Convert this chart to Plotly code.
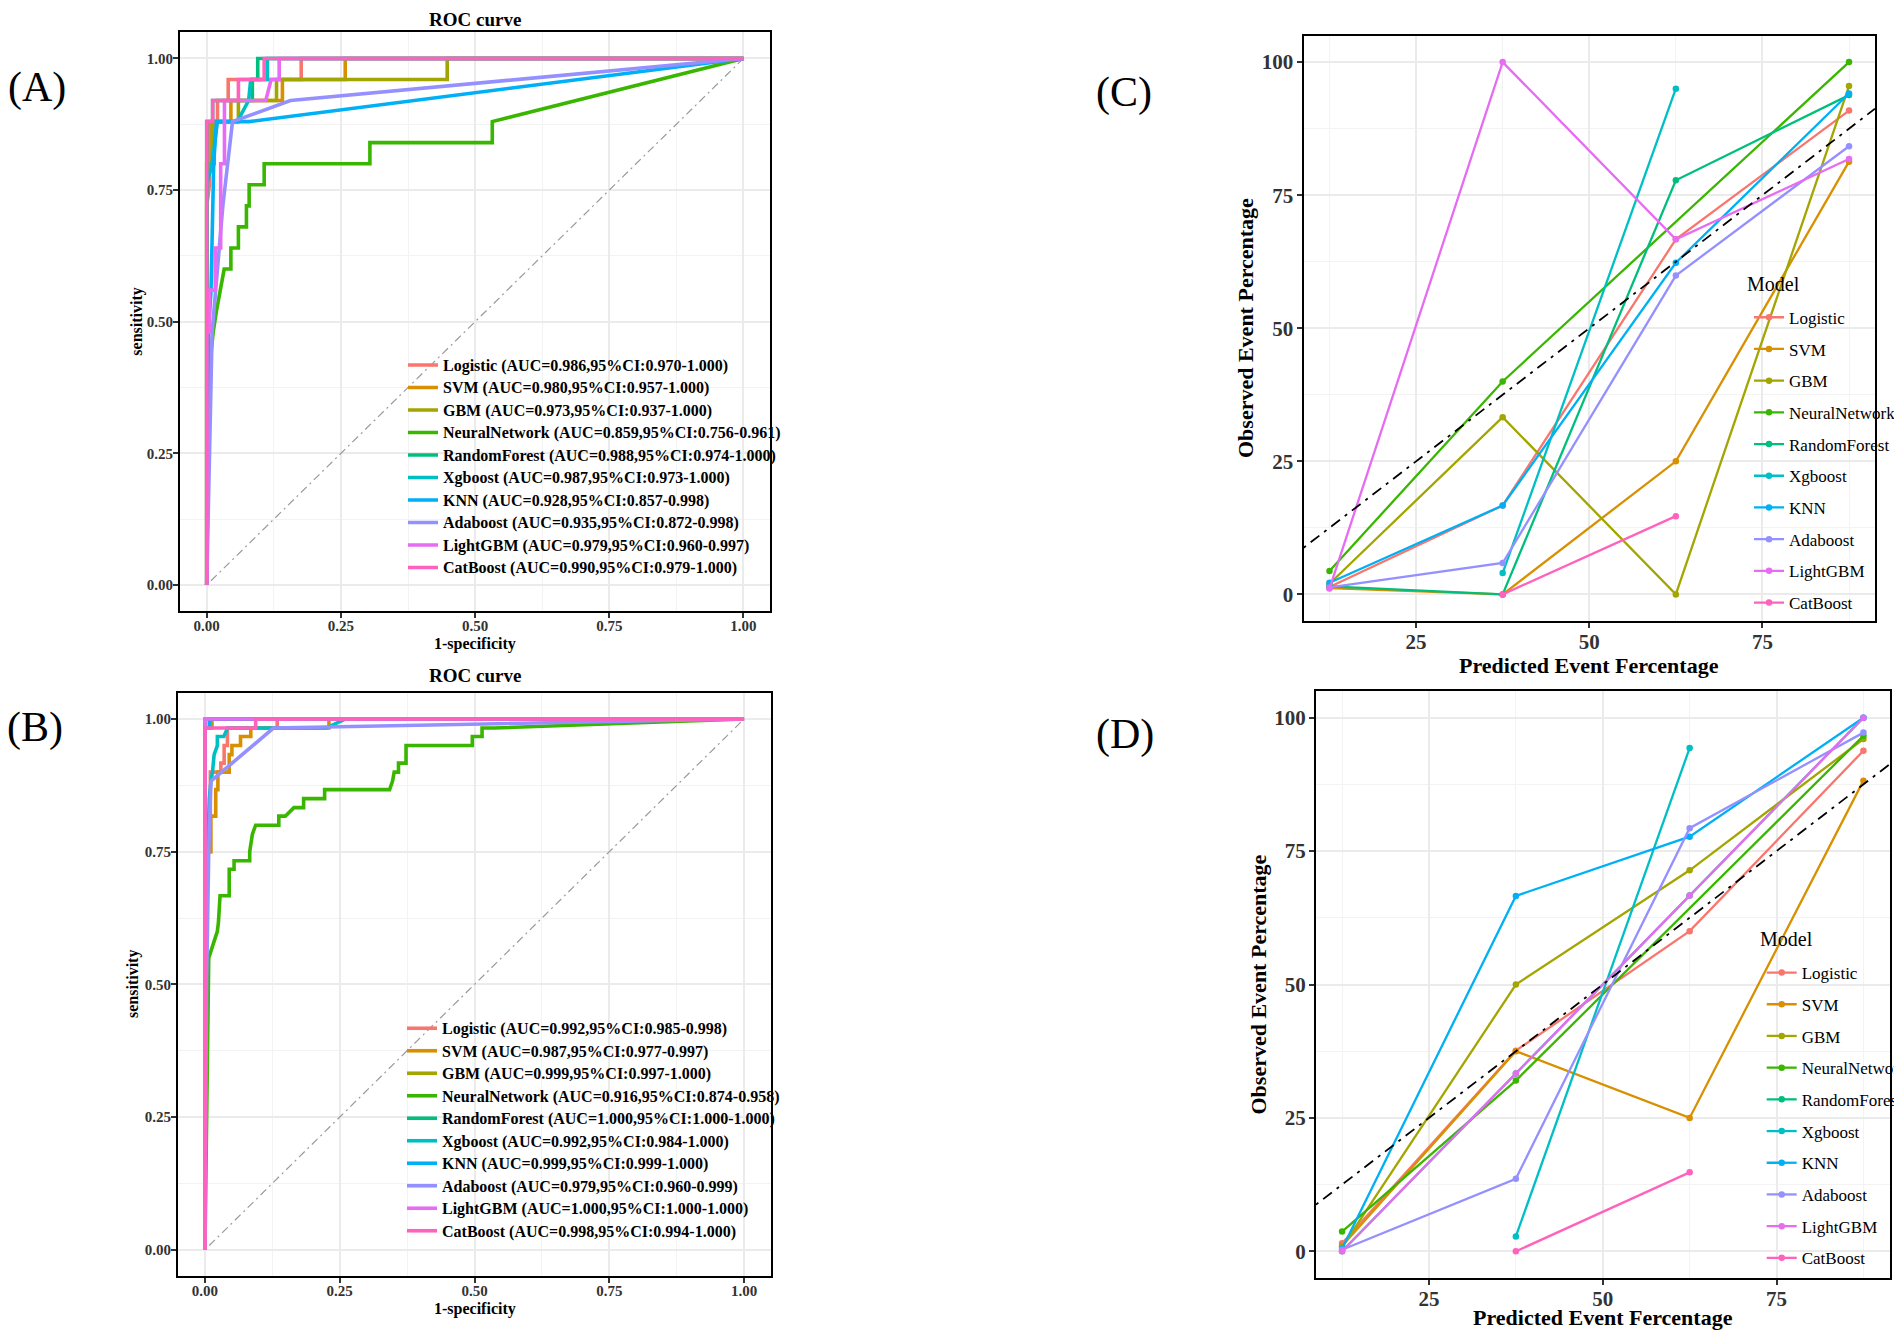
import plotly.graph_objects as go

# page is 1902x1339; the html body has an 8px margin, so the figure is sized to fit inside it
PAGE_W, PAGE_H = 1902, 1339
OFF = 8
W, H = PAGE_W - 2 * OFF, PAGE_H - 2 * OFF
FONT = "Liberation Serif"

MODELS = ["Logistic", "SVM", "GBM", "NeuralNetwork", "RandomForest",
          "Xgboost", "KNN", "Adaboost", "LightGBM", "CatBoost"]
COLORS = ["#F8766D", "#D89000", "#A3A500", "#39B600", "#00BF7D",
          "#00BFC4", "#00B0F6", "#9590FF", "#E76BF3", "#FF62BC"]

# ---------------- Panel A : ROC (fpr, tpr) ----------------
A_AUC = ["0.986", "0.980", "0.973", "0.859", "0.988", "0.987", "0.928", "0.935", "0.979", "0.990"]
A_LO = ["0.970", "0.957", "0.937", "0.756", "0.974", "0.973", "0.857", "0.872", "0.960", "0.979"]
A_HI = ["1.000", "1.000", "1.000", "0.961", "1.000", "1.000", "0.998", "0.998", "0.997", "1.000"]

A_logistic_fpr = [0, 0, 0.005, 0.005, 0.02, 0.02, 0.04, 0.04, 0.176, 0.176, 1]
A_logistic_tpr = [0, 0.72, 0.76, 0.88, 0.88, 0.92, 0.92, 0.96, 0.96, 1, 1]
A_svm_fpr = [0, 0, 0.014, 0.014, 0.045, 0.045, 0.141, 0.141, 0.258, 0.258, 1]
A_svm_tpr = [0, 0.80, 0.80, 0.88, 0.88, 0.92, 0.92, 0.96, 0.96, 1, 1]
A_gbm_fpr = [0, 0, 0.01, 0.01, 0.059, 0.059, 0.13, 0.13, 0.448, 0.448, 1]
A_gbm_tpr = [0, 0.80, 0.80, 0.88, 0.88, 0.92, 0.92, 0.96, 0.96, 1, 1]
A_nn_fpr = [0, 0.004, 0.008, 0.012, 0.018, 0.025, 0.0325, 0.045, 0.045, 0.059, 0.059, 0.074, 0.074,
            0.079, 0.079, 0.107, 0.107, 0.304, 0.304, 0.532, 0.532, 1]
A_nn_tpr = [0, 0.36, 0.44, 0.48, 0.52, 0.56, 0.60, 0.60, 0.64, 0.64, 0.68, 0.68, 0.72,
            0.72, 0.76, 0.76, 0.80, 0.80, 0.84, 0.84, 0.88, 1]
A_rf_fpr = [0, 0, 0.011, 0.011, 0.085, 0.085, 0.095, 0.095, 1]
A_rf_tpr = [0, 0.88, 0.88, 0.92, 0.92, 0.96, 0.96, 1, 1]
A_xgb_fpr = [0, 0, 0.01, 0.02, 0.057, 0.078, 0.082, 0.113, 0.113, 1]
A_xgb_tpr = [0, 0.76, 0.80, 0.88, 0.88, 0.92, 0.96, 0.96, 1, 1]
A_knn_fpr = [0, 0.003, 0.008, 0.013, 0.018, 0.079, 1]
A_knn_tpr = [0, 0.48, 0.56, 0.80, 0.88, 0.88, 1]
A_ada_fpr = [0, 0.005, 0.01, 0.03, 0.048, 0.156, 1]
A_ada_tpr = [0, 0.24, 0.48, 0.72, 0.88, 0.92, 1]
A_lgbm_fpr = [0, 0, 0.005, 0.005, 0.016, 0.016, 0.026, 0.026, 0.033, 0.033, 0.11, 0.12, 0.135, 0.135, 1]
A_lgbm_tpr = [0, 0.48, 0.48, 0.56, 0.56, 0.64, 0.64, 0.80, 0.80, 0.92, 0.92, 0.96, 0.96, 1, 1]
A_cat_fpr = [0, 0, 0.011, 0.011, 0.059, 0.059, 0.107, 0.107, 1]
A_cat_tpr = [0, 0.88, 0.88, 0.92, 0.92, 0.96, 0.96, 1, 1]

# ---------------- Panel B : ROC (fpr, tpr) ----------------
B_AUC = ["0.992", "0.987", "0.999", "0.916", "1.000", "0.992", "0.999", "0.979", "1.000", "0.998"]
B_LO = ["0.985", "0.977", "0.997", "0.874", "1.000", "0.984", "0.999", "0.960", "1.000", "0.994"]
B_HI = ["0.998", "0.997", "1.000", "0.958", "1.000", "1.000", "1.000", "0.999", "1.000", "1.000"]

B_logistic_fpr = [0, 0, 0.01, 0.01, 0.0295, 0.0295, 0.0356, 0.0356, 0.0417, 0.0417, 0.134, 0.134, 1]
B_logistic_tpr = [0, 0.75, 0.75, 0.90, 0.90, 0.917, 0.917, 0.95, 0.95, 0.983, 0.983, 1, 1]
B_svm_fpr = [0, 0, 0.011, 0.011, 0.02, 0.02, 0.024, 0.024, 0.045, 0.045, 0.05, 0.05,
             0.066, 0.066, 0.085, 0.085, 0.23, 0.23, 1]
B_svm_tpr = [0, 0.75, 0.75, 0.817, 0.817, 0.867, 0.867, 0.90, 0.90, 0.933, 0.933, 0.95,
             0.95, 0.967, 0.967, 0.983, 0.983, 1, 1]
B_gbm_fpr = [0, 0, 0.013, 0.013, 1]
B_gbm_tpr = [0, 0.983, 0.983, 1, 1]
B_nn_fpr = [0, 0.005, 0.007, 0.007, 0.023, 0.025, 0.028, 0.045, 0.045, 0.054,
            0.054, 0.083, 0.083, 0.088, 0.094, 0.137, 0.137, 0.149, 0.165, 0.183,
            0.183, 0.222, 0.222, 0.3425, 0.348, 0.351, 0.359, 0.359, 0.373, 0.373,
            0.496, 0.496, 0.514, 0.514, 0.536, 1]
B_nn_tpr = [0, 0.367, 0.533, 0.55, 0.60, 0.617, 0.667, 0.667, 0.717, 0.717,
            0.733, 0.733, 0.75, 0.783, 0.80, 0.80, 0.817, 0.817, 0.833, 0.833,
            0.85, 0.85, 0.867, 0.867, 0.883, 0.90, 0.90, 0.917, 0.917, 0.95,
            0.95, 0.967, 0.967, 0.983, 0.983, 1]
B_rf_fpr = [0, 0, 1]
B_rf_tpr = [0, 1, 1]
B_xgb_fpr = [0, 0, 0.005, 0.008, 0.011, 0.014, 0.017, 0.023, 0.023, 0.035, 0.042, 0.225, 0.26, 1]
B_xgb_tpr = [0, 0.70, 0.75, 0.85, 0.883, 0.90, 0.933, 0.95, 0.967, 0.967, 0.983, 0.983, 1, 1]
B_knn_fpr = [0, 0, 0.008, 0.008, 1]
B_knn_tpr = [0, 0.983, 0.983, 1, 1]
B_ada_fpr = [0, 0.003, 0.007, 0.011, 0.127, 1]
B_ada_tpr = [0, 0.50, 0.75, 0.883, 0.983, 1]
B_lgbm_fpr = [0, 0, 1]
B_lgbm_tpr = [0, 1, 1]
B_cat_fpr = [0, 0, 0.094, 0.094, 1]
B_cat_tpr = [0, 0.983, 0.983, 1, 1]

CHANCE = [0, 1]

# ---------------- Panels C / D : calibration ----------------
BINS = [12.5, 37.5, 62.5, 87.5]
BINS_NO3 = [12.5, 37.5, 87.5]
BINS_MID = [37.5, 62.5]

C_logistic = [1.4, 16.7, 66.7, 90.9]
C_svm = [1.2, 0.0, 25.0, 81.3]
C_gbm = [2.0, 33.3, 0.0, 95.5]
C_nn = [4.4, 40.0, 100.0]
C_rf = [1.5, 0.0, 77.8, 93.8]
C_xgb = [4.0, 95.0]
C_knn = [2.2, 16.7, 62.3, 94.1]
C_ada = [1.3, 5.9, 59.9, 84.2]
C_lgbm = [1.1, 100.0, 66.7, 81.8]
C_cat = [0.0, 14.7]

D_logistic = [1.5, 37.6, 60.0, 93.8]
D_svm = [1.0, 37.5, 25.0, 88.2]
D_gbm = [0.8, 50.0, 71.4, 96.0]
D_nn = [3.7, 32.0, 96.6]
D_rf = [0.0, 33.3, 66.7, 100.0]
D_xgb = [2.8, 94.3]
D_knn = [0.5, 66.6, 77.7, 100.0]
D_ada = [0.3, 13.6, 79.3, 97.2]
D_lgbm = [0.0, 33.3, 66.7, 100.0]
D_cat = [0.0, 14.8]

ROC_X_RANGE = [-0.05, 1.05]
ROC_Y_RANGE = [-0.05, 1.05]
CAL_X_RANGE = [8.75, 91.25]
CAL_Y_RANGE = [-5, 105]

A_curves = [(A_logistic_fpr, A_logistic_tpr), (A_svm_fpr, A_svm_tpr), (A_gbm_fpr, A_gbm_tpr),
            (A_nn_fpr, A_nn_tpr), (A_rf_fpr, A_rf_tpr), (A_xgb_fpr, A_xgb_tpr),
            (A_knn_fpr, A_knn_tpr), (A_ada_fpr, A_ada_tpr), (A_lgbm_fpr, A_lgbm_tpr),
            (A_cat_fpr, A_cat_tpr)]
B_curves = [(B_logistic_fpr, B_logistic_tpr), (B_svm_fpr, B_svm_tpr), (B_gbm_fpr, B_gbm_tpr),
            (B_nn_fpr, B_nn_tpr), (B_rf_fpr, B_rf_tpr), (B_xgb_fpr, B_xgb_tpr),
            (B_knn_fpr, B_knn_tpr), (B_ada_fpr, B_ada_tpr), (B_lgbm_fpr, B_lgbm_tpr),
            (B_cat_fpr, B_cat_tpr)]
C_cal = [(BINS, C_logistic), (BINS, C_svm), (BINS, C_gbm), (BINS_NO3, C_nn), (BINS, C_rf),
         (BINS_MID, C_xgb), (BINS, C_knn), (BINS, C_ada), (BINS, C_lgbm), (BINS_MID, C_cat)]
D_cal = [(BINS, D_logistic), (BINS, D_svm), (BINS, D_gbm), (BINS_NO3, D_nn), (BINS, D_rf),
         (BINS_MID, D_xgb), (BINS, D_knn), (BINS, D_ada), (BINS, D_lgbm), (BINS_MID, D_cat)]

fig = go.Figure()


def px_x(v):
    # page pixel -> paper fraction
    return (v - OFF) / W


def px_y(v):
    return 1 - (v - OFF) / H


# ROC panels
for ax, curves, aucs, los, his, leg in [("", A_curves, A_AUC, A_LO, A_HI, "legend"),
                                        ("2", B_curves, B_AUC, B_LO, B_HI, "legend2")]:
    fig.add_trace(go.Scatter(x=CHANCE, y=CHANCE, mode="lines", showlegend=False,
                             line=dict(color="#9A9A9A", width=1.2, dash="2px,4px,8px,4px"),
                             xaxis="x" + ax, yaxis="y" + ax, hoverinfo="skip"))
    for m, col, (fx, ty), a, lo, hi in zip(MODELS, COLORS, curves, aucs, los, his):
        label = f"{m} (AUC={a},95%CI:{lo}-{hi})"
        fig.add_trace(go.Scatter(
            x=fx, y=ty, mode="lines",
            name=f"<span style='font-size:16px'>{label}</span>",
            line=dict(color=col, width=3.6), xaxis="x" + ax, yaxis="y" + ax, legend=leg))

# Calibration panels
for ax, cal, leg, pref in [("3", C_cal, "legend3", "C"), ("4", D_cal, "legend4", "D")]:
    for m, col, (bx, by) in zip(MODELS, COLORS, cal):
        fig.add_trace(go.Scatter(
            x=bx, y=by, mode="lines+markers", name=m, legendgroup=pref + m,
            line=dict(color=col, width=2.3), marker=dict(color=col, size=6.5),
            xaxis="x" + ax, yaxis="y" + ax, legend=leg))
    fig.add_trace(go.Scatter(x=CAL_X_RANGE, y=CAL_X_RANGE, mode="lines", showlegend=False,
                             line=dict(color="black", width=1.8, dash="3px,6px,11px,6px"),
                             xaxis="x" + ax, yaxis="y" + ax, hoverinfo="skip"))

grid = "#EBEBEB"
mgrid = "#F3F3F3"


def axis_style(rng, dtick, mdtick, fmt, fsize, dom, anchor, standoff):
    return dict(range=rng, domain=dom, anchor=anchor, tick0=0, dtick=dtick, tickformat=fmt,
                showline=True, mirror=True, linecolor="black", linewidth=2,
                ticks="outside", ticklen=5, tickwidth=1.5, tickcolor="#333333",
                ticklabelstandoff=standoff,
                tickfont=dict(family=FONT, size=fsize, color="#333333", weight="bold"),
                showgrid=True, gridcolor=grid, gridwidth=1.8, zeroline=False,
                minor=dict(dtick=mdtick, tick0=0, showgrid=True, gridcolor=mgrid, gridwidth=1.1),
                fixedrange=True)


# plot-area edges in page pixels
dom_A_x = [px_x(179.9), px_x(770.3)]
dom_A_y = [px_y(611.3), px_y(32.1)]
dom_B_x = [px_x(178.0), px_x(771.0)]
dom_B_y = [px_y(1276.3), px_y(692.5)]
dom_C_x = [px_x(1303.5), px_x(1875.0)]
dom_C_y = [px_y(621.0), px_y(35.5)]
dom_D_x = [px_x(1316.0), px_x(1889.5)]
dom_D_y = [px_y(1278.0), px_y(691.0)]

roc_leg_font = dict(family=FONT, size=15, weight="bold", color="black")
cal_leg_font = dict(family=FONT, size=17, color="black")

fig.update_layout(
    width=W, height=H, margin=dict(l=0, r=0, t=0, b=0, autoexpand=False),
    paper_bgcolor="white", plot_bgcolor="white",
    font=dict(family=FONT, color="black"),
    xaxis=axis_style(ROC_X_RANGE, 0.25, 0.125, ".2f", 15, dom_A_x, "y", -5),
    yaxis=axis_style(ROC_Y_RANGE, 0.25, 0.125, ".2f", 15, dom_A_y, "x", -3),
    xaxis2=axis_style(ROC_X_RANGE, 0.25, 0.125, ".2f", 15, dom_B_x, "y2", -5),
    yaxis2=axis_style(ROC_Y_RANGE, 0.25, 0.125, ".2f", 15, dom_B_y, "x2", -3),
    xaxis3=axis_style(CAL_X_RANGE, 25, 12.5, "d", 21, dom_C_x, "y3", -4),
    yaxis3=axis_style(CAL_Y_RANGE, 25, 12.5, "d", 21, dom_C_y, "x3", -1),
    xaxis4=axis_style(CAL_X_RANGE, 25, 12.5, "d", 21, dom_D_x, "y4", -4),
    yaxis4=axis_style(CAL_Y_RANGE, 25, 12.5, "d", 21, dom_D_y, "x4", -1),
    legend=dict(x=px_x(403), y=px_y(348.7), xanchor="left", yanchor="top",
                bgcolor="rgba(0,0,0,0)", font=roc_leg_font, tracegroupgap=0),
    legend2=dict(x=px_x(402), y=px_y(1012), xanchor="left", yanchor="top",
                 bgcolor="rgba(0,0,0,0)", font=roc_leg_font, tracegroupgap=0),
    legend3=dict(x=px_x(1749), y=px_y(299.7), xanchor="left", yanchor="top",
                 bgcolor="rgba(0,0,0,0)", font=cal_leg_font, tracegroupgap=6.6),
    legend4=dict(x=px_x(1761.7), y=px_y(955), xanchor="left", yanchor="top",
                 bgcolor="rgba(0,0,0,0)", font=cal_leg_font, tracegroupgap=6.6),
    showlegend=True,
)

ann = []


def add_text(text, x, y, size, bold=False, angle=0, xanchor="center", yanchor="middle"):
    ann.append(dict(text=text, x=px_x(x), y=px_y(y), xref="paper", yref="paper",
                    xanchor=xanchor, yanchor=yanchor, showarrow=False, textangle=angle,
                    borderpad=0,
                    font=dict(family=FONT, size=size, color="black",
                              weight="bold" if bold else "normal")))


# panel labels
add_text("(A)", 37, 87, 42)
add_text("(B)", 35, 727, 42)
add_text("(C)", 1124, 92, 42)
add_text("(D)", 1125, 734, 42)
# ROC titles and axis titles
add_text("ROC curve", 475, 8.5, 19, True, 0, "center", "top")
add_text("ROC curve", 475, 675, 19, True)
add_text("1-specificity", 475, 644, 16, True)
add_text("1-specificity", 475, 1308.5, 16, True)
add_text("sensitivity", 137, 321.7, 16, True, -90)
add_text("sensitivity", 133, 984, 16, True, -90)
# Calibration axis titles
add_text("Predicted Event Fercentage", 1589, 665, 22, True)
add_text("Predicted Event Fercentage", 1603, 1330.5, 22, True, 0, "center", "bottom")
add_text("Observed Event Percentage", 1245, 328, 22, True, -90)
add_text("Observed Event Percentage", 1258, 984.5, 22, True, -90)
# legend titles
add_text("Model", 1746, 284, 20, False, 0, "left")
add_text("Model", 1759, 939, 20, False, 0, "left")

fig.update_layout(annotations=ann)

fig.write_html("out.html")
